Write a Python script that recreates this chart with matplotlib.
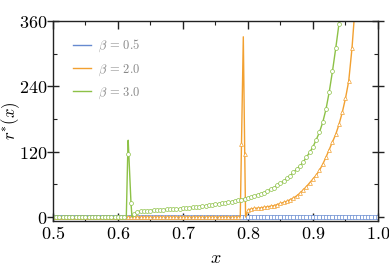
import numpy as np
import matplotlib
matplotlib.use("Agg")
import matplotlib.pyplot as plt
from matplotlib.ticker import FixedLocator, FuncFormatter

plt.rcParams['mathtext.fontset'] = 'cm'
plt.rcParams['font.family'] = ['DejaVu Serif']

# ---- data (markers on a 0.005 grid) ----
x_grid = np.round(np.linspace(0.5, 1.0, 101), 3)

beta_labels = [r'$\beta\,=\,0.5$', r'$\beta\,=\,2.0$', r'$\beta\,=\,3.0$']

# beta = 0.5 : identically zero
blue_y = [0.0] * 101

# beta = 2.0
orange_x = [0.500, 0.505, 0.510, 0.515, 0.520, 0.525, 0.530, 0.535, 0.540, 0.545,
            0.550, 0.555, 0.560, 0.565, 0.570, 0.575, 0.580, 0.585, 0.590, 0.595,
            0.600, 0.605, 0.610, 0.615, 0.620, 0.625, 0.630, 0.635, 0.640, 0.645,
            0.650, 0.655, 0.660, 0.665, 0.670, 0.675, 0.680, 0.685, 0.690, 0.695,
            0.700, 0.705, 0.710, 0.715, 0.720, 0.725, 0.730, 0.735, 0.740, 0.745,
            0.750, 0.755, 0.760, 0.765, 0.770, 0.775, 0.780, 0.785, 0.790, 0.795,
            0.800, 0.805, 0.810, 0.815, 0.820, 0.825, 0.830, 0.835, 0.840, 0.845,
            0.850, 0.855, 0.860, 0.865, 0.870, 0.875, 0.880, 0.885, 0.890, 0.895,
            0.900, 0.905, 0.910, 0.915, 0.920, 0.925, 0.930, 0.935, 0.940, 0.945,
            0.950, 0.955, 0.960, 0.965]
orange_y = [0] * 58 + [134, 116,
            13, 15, 16, 16.5, 17, 18, 19, 20, 21, 23,
            25, 27, 29, 32, 35, 39, 44, 50, 56, 63,
            70, 77, 86, 97, 110, 124, 138, 152, 170, 192,
            218, 250, 310, 390]
# extra points of the fitted curve (line only, spike shape)
orange_line_extra_x = [0.7881, 0.7928, 0.7963]
orange_line_extra_y = [0, 331, 0]

# beta = 3.0
green_x = [0.500, 0.505, 0.510, 0.515, 0.520, 0.525, 0.530, 0.535, 0.540, 0.545,
           0.550, 0.555, 0.560, 0.565, 0.570, 0.575, 0.580, 0.585, 0.590, 0.595,
           0.600, 0.605, 0.610, 0.615, 0.620, 0.625, 0.630, 0.635, 0.640, 0.645,
           0.650, 0.655, 0.660, 0.665, 0.670, 0.675, 0.680, 0.685, 0.690, 0.695,
           0.700, 0.705, 0.710, 0.715, 0.720, 0.725, 0.730, 0.735, 0.740, 0.745,
           0.750, 0.755, 0.760, 0.765, 0.770, 0.775, 0.780, 0.785, 0.790, 0.795,
           0.800, 0.805, 0.810, 0.815, 0.820, 0.825, 0.830, 0.835, 0.840, 0.845,
           0.850, 0.855, 0.860, 0.865, 0.870, 0.875, 0.880, 0.885, 0.890, 0.895,
           0.900, 0.905, 0.910, 0.915, 0.920, 0.925, 0.930, 0.935, 0.940, 0.945]
green_y = [0] * 23 + [116, 26, 5,
           10, 10.5, 11, 11.5, 12, 12.5, 12.5, 13, 13.5, 14,
           14.5, 15, 15, 15.5, 16, 16.5, 17, 18, 18.5, 19,
           20, 21, 21.5, 22.5, 24, 24.5, 25.5, 26.5, 27.5, 28.5,
           29.5, 30.5, 32, 33.5, 35, 37, 39, 41, 42.5, 45,
           48, 51, 54, 58, 62, 66, 71, 76, 82, 88,
           94, 101, 110, 119, 129, 142, 156, 174, 198, 230,
           268, 310, 355, 405]
green_line_extra_x = [0.6128, 0.6157, 0.6215]
green_line_extra_y = [0, 141, 0]

colors = ['#668ad0', '#f2a030', '#8dc146']

fig = plt.figure(figsize=(3.89, 2.69), dpi=100)
ax = fig.add_axes([0.1362, 0.1784, 0.8355, 0.7435])


def merged(xs, ys, ex, ey):
    px = np.concatenate([np.asarray(xs, float), np.asarray(ex, float)])
    py = np.concatenate([np.asarray(ys, float), np.asarray(ey, float)])
    o = np.argsort(px, kind='stable')
    return px[o], py[o]


lw = 1.0
ms = 2.8
mew = 0.5
# blue
ax.plot(x_grid, blue_y, '-', color=colors[0], lw=lw, label=beta_labels[0])
ax.plot(x_grid, blue_y, 's', color=colors[0], ms=2.3, mfc='white', mew=mew)
# orange
lx, ly = merged(orange_x, orange_y, orange_line_extra_x, orange_line_extra_y)
ax.plot(lx, ly, '-', color=colors[1], lw=lw, label=beta_labels[1])
ax.plot(orange_x, orange_y, '^', color=colors[1], ms=ms, mfc='white', mew=mew)
# green
lx, ly = merged(green_x, green_y, green_line_extra_x, green_line_extra_y)
ax.plot(lx, ly, '-', color=colors[2], lw=lw, label=beta_labels[2])
ax.plot(green_x, green_y, 'o', color=colors[2], ms=ms, mfc='white', mew=mew)

ax.set_xlim(0.5, 1.0)
ax.set_ylim(-7.3, 360)

ax.xaxis.set_major_locator(FixedLocator([0.5, 0.6, 0.7, 0.8, 0.9, 1.0]))
ax.xaxis.set_minor_locator(FixedLocator([0.55, 0.65, 0.75, 0.85, 0.95]))
ax.yaxis.set_major_locator(FixedLocator([0, 120, 240, 360]))
ax.yaxis.set_minor_locator(FixedLocator([60, 180, 300]))
ax.xaxis.set_major_formatter(FuncFormatter(lambda v, p: r'$%.1f$' % v))
ax.yaxis.set_major_formatter(FuncFormatter(lambda v, p: r'$%d$' % round(v)))

for s in ax.spines.values():
    s.set_linewidth(1.0)
    s.set_color('#222222')

ax.tick_params(which='major', direction='in', length=6, width=1.0, color='#222222',
               top=True, right=True, labelsize=13)
ax.tick_params(which='minor', direction='in', length=3, width=0.8, color='#222222',
               top=True, right=True)
ax.tick_params(axis='y', which='major', left=True, direction='inout', length=8, pad=0)
ax.tick_params(axis='x', which='major', pad=3)

ax.set_xlabel(r'$x$', fontsize=13)
ax.xaxis.set_label_coords(0.5, -0.14)
ax.set_ylabel(r'$r^{*}(x)$', fontsize=12)
ax.yaxis.set_label_coords(-0.095, 0.5)

leg = ax.legend(loc='upper left', frameon=False, fontsize=9, handlelength=1.5,
                handletextpad=0.5, labelspacing=0.62, borderaxespad=0.0,
                bbox_to_anchor=(0.045, 0.94))
for t in leg.get_texts():
    t.set_color('#888888')

fig.savefig('out.png', dpi=100)
